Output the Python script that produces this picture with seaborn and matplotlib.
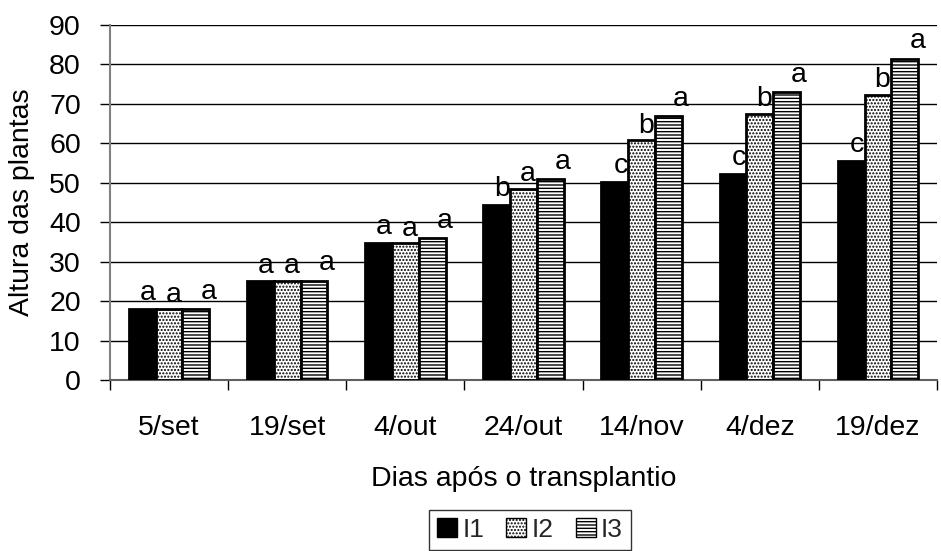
import numpy as np
import pandas as pd
import matplotlib
matplotlib.use("Agg")
import matplotlib.pyplot as plt
import seaborn as sns
from matplotlib.patches import Patch

categories = ["5/set", "19/set", "4/out", "24/out", "14/nov", "4/dez", "19/dez"]
series = ["I1", "I2", "I3"]
I1 = [18.0, 25.0, 34.7, 44.3, 50.2, 52.3, 55.5]
I2 = [18.0, 25.2, 34.7, 48.5, 60.8, 67.5, 72.3]
I3 = [18.0, 25.2, 36.0, 51.0, 67.0, 73.0, 81.5]
L1 = ["a", "a", "a", "b", "c", "c", "c"]
L2 = ["a", "a", "a", "a", "b", "b", "b"]
L3 = ["a", "a", "a", "a", "a", "a", "a"]

sns.set_theme(style="white")
plt.rcParams['font.family'] = ['Liberation Sans', 'DejaVu Sans']
plt.rcParams['hatch.linewidth'] = 1.0

df = pd.DataFrame({
    "cat": categories * 3,
    "serie": ["I1"] * 7 + ["I2"] * 7 + ["I3"] * 7,
    "val": I1 + I2 + I3,
})

FS = 20.5
fig = plt.figure(figsize=(9.41, 5.51), dpi=100)
ax = fig.add_axes([110/941, 1 - 380/551, (937-110)/941, (380-25)/551])

sns.barplot(data=df, x="cat", y="val", hue="serie", order=categories, hue_order=series,
            palette=["black", "white", "white"], edgecolor="black", linewidth=2,
            width=0.68, ax=ax, legend=False, zorder=3)

hatches = ["", ".....", "-----"]
labels_all = [L1, L2, L3]
dx = [4, 3, 9]
dy = [2, 1, 3]
for i, cont in enumerate(ax.containers):
    for j, bar in enumerate(cont):
        bar.set_hatch(hatches[i])
        bar.set_edgecolor("black")
        h = bar.get_height()
        ax.annotate(labels_all[i][j], (bar.get_x() + bar.get_width() / 2, h),
                    xytext=(dx[i], dy[i]), textcoords="offset points",
                    ha="center", va="bottom", fontsize=FS, color="black", zorder=5)

ax.set_ylim(0, 90)
ax.set_xlim(-0.5, 6.5)
ax.set_yticks(np.arange(0, 91, 10))
ax.yaxis.grid(True, color="black", linewidth=1, zorder=0)
ax.set_axisbelow(True)
ax.tick_params(axis="y", labelsize=FS, length=7, width=1, direction="out", left=True,
               colors="black", pad=14)
ax.tick_params(axis="x", labelsize=FS, length=0, pad=25, colors="black")
ax.set_xticks(np.arange(-0.5, 7, 1), minor=True)
ax.tick_params(axis="x", which="minor", length=7, width=1, bottom=True, direction="out", color="black")
for s in ["top", "right"]:
    ax.spines[s].set_visible(False)
ax.spines["left"].set_color("#808080")
ax.spines["left"].set_linewidth(1.5)
ax.spines["bottom"].set_color("#606060")
ax.spines["bottom"].set_linewidth(1.5)
ax.set_xlabel("Dias após o transplantio", fontsize=FS, color="black")
ax.set_ylabel("Altura das plantas", fontsize=FS, color="black")
ax.xaxis.set_label_coords(0.5, -0.242)
ax.yaxis.set_label_coords(-0.091, 0.5)

handles = [Patch(facecolor="black" if i == 0 else "white", edgecolor="black", hatch=hatches[i], linewidth=1)
           for i in range(3)]
leg = fig.legend(handles, series, loc="center", bbox_to_anchor=(530/941, 1 - 530/551), ncol=3,
                 fontsize=19, frameon=True, fancybox=False, edgecolor="black",
                 handlelength=0.75, handleheight=0.75, handletextpad=0.2, columnspacing=0.85,
                 borderpad=0.3, borderaxespad=0)
leg.get_frame().set_linewidth(1)

fig.savefig("out.png", dpi=100)
